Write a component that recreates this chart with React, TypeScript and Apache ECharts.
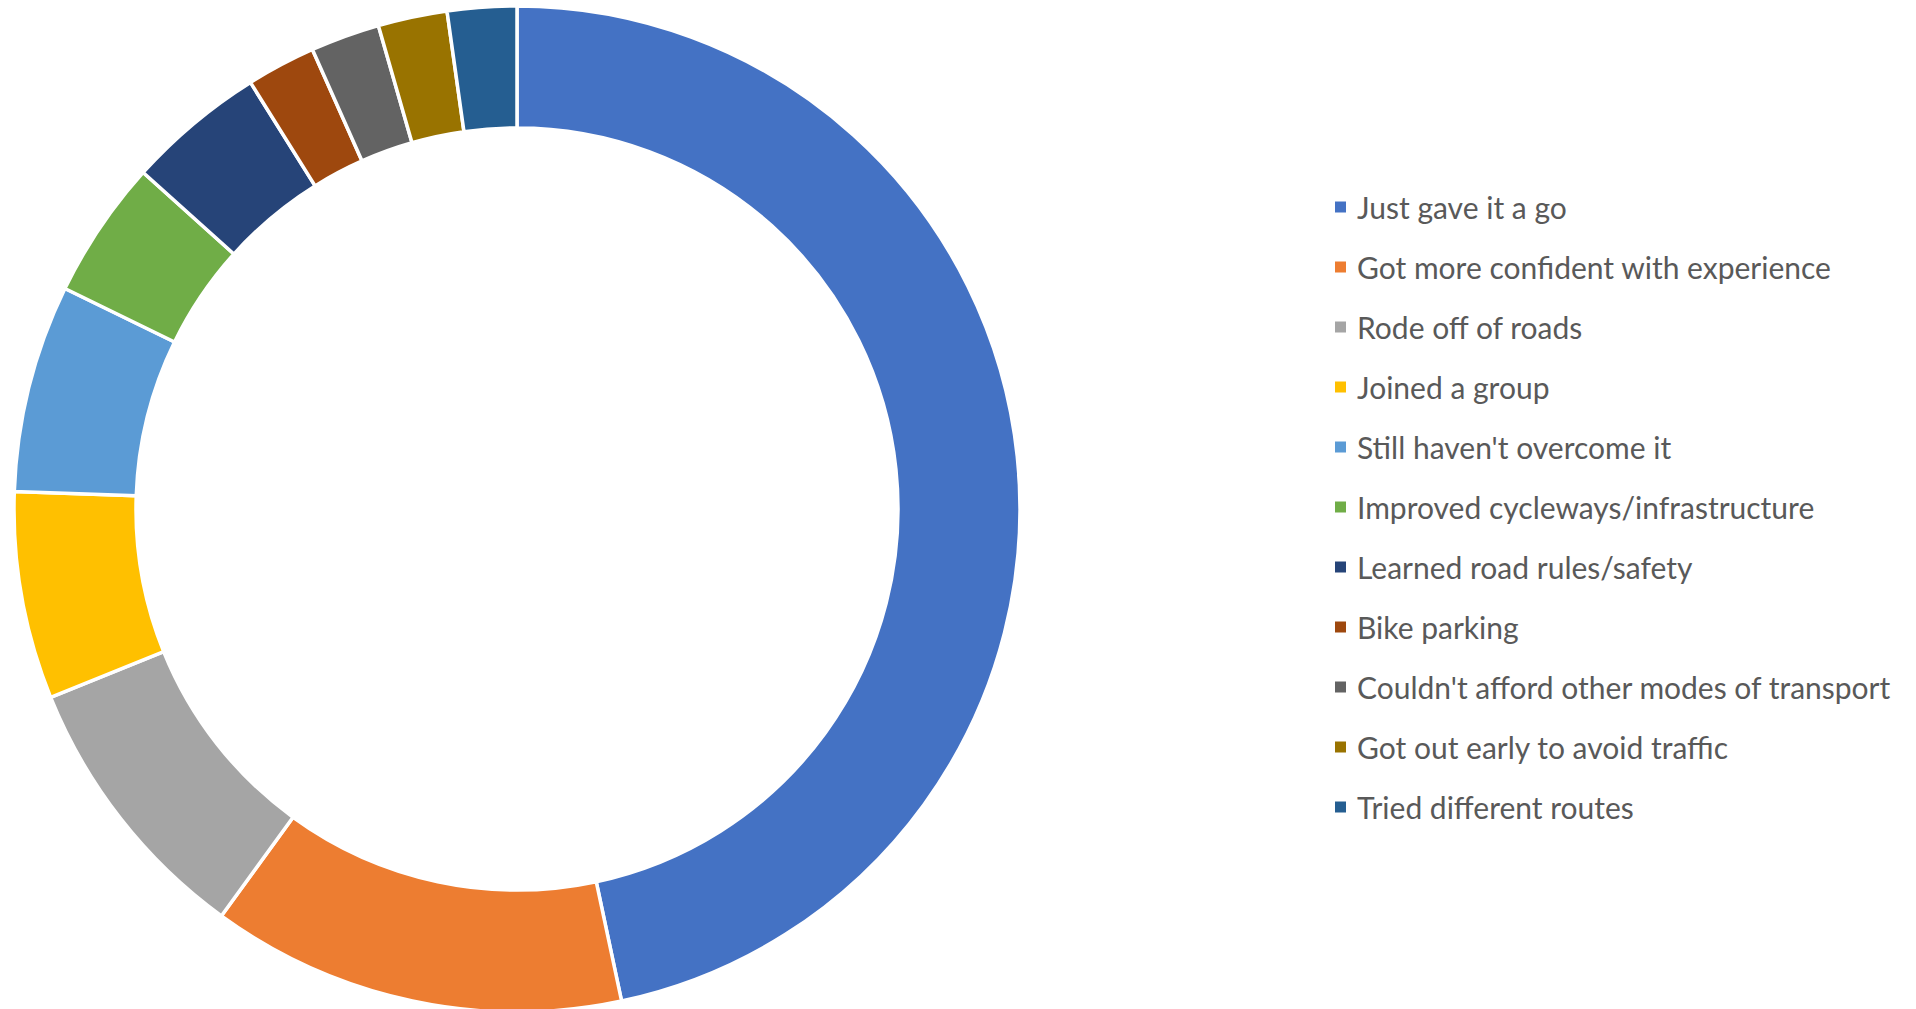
import React, { useEffect, useRef } from "react";
import * as echarts from "echarts";

const categories = [
  "Just gave it a go",
  "Got more confident with experience",
  "Rode off of roads",
  "Joined a group",
  "Still haven't overcome it",
  "Improved cycleways/infrastructure",
  "Learned road rules/safety",
  "Bike parking",
  "Couldn't afford other modes of transport",
  "Got out early to avoid traffic",
  "Tried different routes",
];
const values = [21, 6, 4, 3, 3, 2, 2, 1, 1, 1, 1];
const colors = [
  "#4472C4",
  "#ED7D31",
  "#A5A5A5",
  "#FFC000",
  "#5B9BD5",
  "#70AD47",
  "#264478",
  "#9E480E",
  "#636363",
  "#997300",
  "#255E91",
];

export default function App() {
  const ref = useRef<HTMLDivElement>(null);
  useEffect(() => {
    if (!ref.current) return;
    const chart = echarts.init(ref.current, null, { renderer: "svg" });
    chart.setOption({
      animation: false,
      color: colors,
      legend: {
        orient: "vertical",
        left: 1333,
        top: 192,
        padding: 0,
        itemWidth: 13,
        itemHeight: 13,
        itemGap: 30,
        icon: "rect",
        selectedMode: false,
        textStyle: {
          fontFamily: "Lato",
          fontSize: 30,
          color: "#595959",
          lineHeight: 30,
          padding: [0, 0, 0, 5],
        },
        data: categories,
      },
      series: [
        {
          type: "pie",
          center: [517, 509],
          radius: [381, 503],
          startAngle: 90,
          clockwise: true,
          label: { show: false },
          labelLine: { show: false },
          emphasis: { disabled: true },
          itemStyle: { borderColor: "#ffffff", borderWidth: 3.5 },
          data: categories.map((name, i) => ({ name, value: values[i] })),
        },
      ],
    });
    return () => chart.dispose();
  }, []);
  return (
    <div
      ref={ref}
      style={{ position: "fixed", left: 0, top: 0, width: 1916, height: 1009, background: "#fff" }}
    />
  );
}
